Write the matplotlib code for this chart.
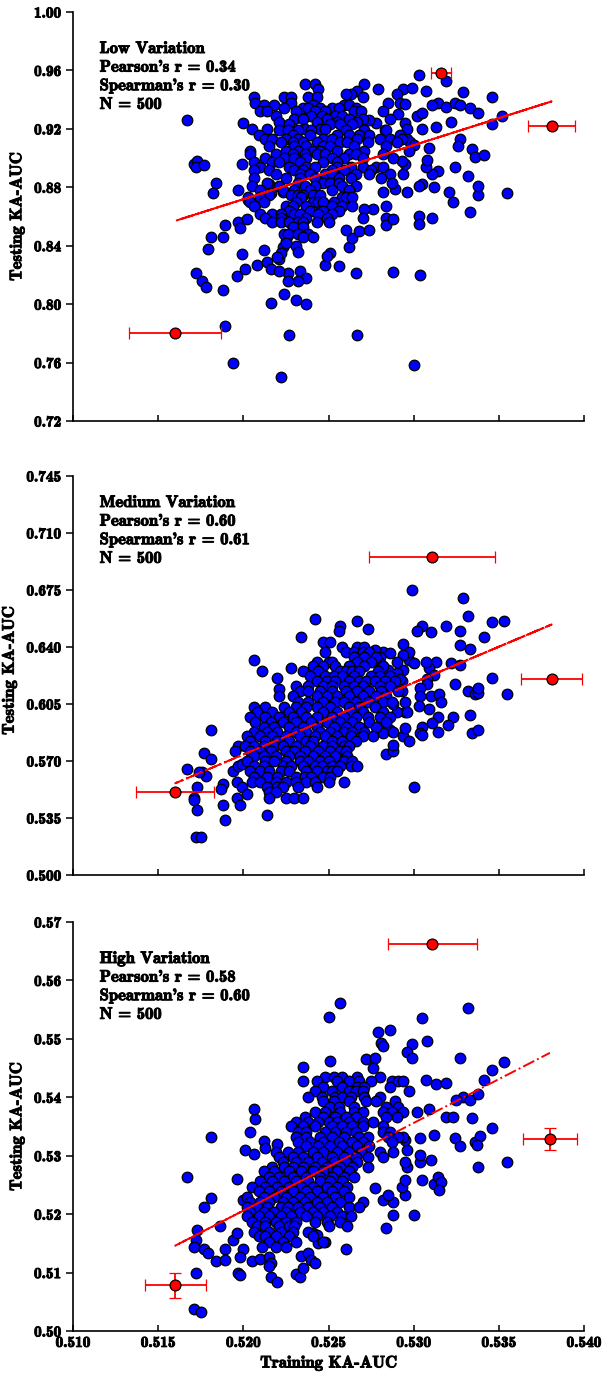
"""Training vs testing KA-AUC scatter for three variation levels."""

import numpy as np
import matplotlib
matplotlib.use('Agg')
import matplotlib.pyplot as plt
import matplotlib.patheffects as pe
from matplotlib.ticker import FormatStrFormatter

plt.rcParams['font.family'] = 'cmb10'
plt.rcParams['mathtext.fontset'] = 'cm'
plt.rcParams['axes.formatter.use_mathtext'] = True

OUT_PNG = 'out.png'

PANEL_NAMES = ['Low Variation', 'Medium Variation', 'High Variation']
PEARSON_R = [0.34, 0.60, 0.58]
SPEARMAN_R = [0.30, 0.61, 0.60]
N_MODELS = 500

# (training, testing) pairs
low_points = [
    (0.5167, 0.926), (0.5171, 0.896), (0.5173, 0.898), (0.5172, 0.894), (0.5177, 0.895),
    (0.5184, 0.883), (0.5182, 0.876), (0.5197, 0.878), (0.5199, 0.896), (0.5200, 0.924),
    (0.5172, 0.821), (0.5176, 0.816), (0.5178, 0.812), (0.5188, 0.810),
    (0.5179, 0.838), (0.5181, 0.846), (0.5188, 0.846), (0.5189, 0.854),
    (0.5196, 0.819), (0.5201, 0.824), (0.5199, 0.834),
    (0.5189, 0.785), (0.5194, 0.760), (0.5222, 0.750), (0.5227, 0.779), (0.5267, 0.779), (0.5300, 0.758),
    (0.5216, 0.801), (0.5224, 0.807), (0.5231, 0.803), (0.5237, 0.800),
    (0.5226, 0.821), (0.5233, 0.823), (0.5237, 0.818), (0.5232, 0.816), (0.5226, 0.816),
    (0.5266, 0.821), (0.5288, 0.822), (0.5304, 0.820),
    (0.5248, 0.827), (0.5251, 0.835), (0.5256, 0.826), (0.5249, 0.833),
    (0.5262, 0.839), (0.5264, 0.845), (0.5260, 0.851), (0.5268, 0.850), (0.5274, 0.851),
    (0.5212, 0.837), (0.5208, 0.827), (0.5214, 0.829), (0.5216, 0.824), (0.5221, 0.823),
    (0.5221, 0.831), (0.5223, 0.839), (0.5225, 0.843), (0.5226, 0.847),
    (0.5197, 0.856), (0.5198, 0.852), (0.5202, 0.858), (0.5203, 0.871), (0.5207, 0.868),
    (0.5215, 0.882), (0.5216, 0.876), (0.5223, 0.877),
    (0.5346, 0.942), (0.5329, 0.945), (0.5307, 0.946), (0.5303, 0.957), (0.5319, 0.953),
    (0.5352, 0.929), (0.5346, 0.923), (0.5355, 0.876), (0.5333, 0.863), (0.5338, 0.875),
    (0.5338, 0.881), (0.5332, 0.888), (0.5323, 0.870), (0.5321, 0.877), (0.5324, 0.894),
    (0.5334, 0.906), (0.5336, 0.901), (0.5341, 0.902), (0.5327, 0.913), (0.5326, 0.908),
    (0.5322, 0.925), (0.5313, 0.921), (0.5305, 0.920),
    (0.5314, 0.938), (0.5311, 0.936), (0.5319, 0.935), (0.5324, 0.938), (0.5327, 0.936),
    (0.5333, 0.934), (0.5338, 0.931), (0.5302, 0.929), (0.5305, 0.931),
    (0.5311, 0.859), (0.5303, 0.860), (0.5303, 0.855), (0.5312, 0.880), (0.5305, 0.882),
    (0.5303, 0.881), (0.5314, 0.891), (0.5311, 0.889), (0.5307, 0.894), (0.5308, 0.899),
    (0.5309, 0.907), (0.5296, 0.877), (0.5289, 0.879), (0.5294, 0.889), (0.5295, 0.896),
    (0.5293, 0.898), (0.5282, 0.877), (0.5284, 0.867), (0.5284, 0.859), (0.5284, 0.854),
    (0.5288, 0.858), (0.5276, 0.865), (0.5271, 0.865), (0.5270, 0.859),
    (0.5294, 0.947), (0.5299, 0.948), (0.5290, 0.944), (0.5292, 0.938), (0.5295, 0.937),
    (0.5285, 0.938), (0.5279, 0.947), (0.5271, 0.951), (0.5267, 0.946), (0.5263, 0.944),
    (0.5260, 0.944), (0.5270, 0.942),
    (0.5282, 0.932), (0.5291, 0.930), (0.5286, 0.927), (0.5295, 0.924), (0.5296, 0.920),
    (0.5283, 0.919), (0.5296, 0.913), (0.5298, 0.911), (0.5300, 0.909), (0.5278, 0.924),
    (0.5274, 0.926),
    (0.5236, 0.951), (0.5242, 0.951), (0.5244, 0.947),
    (0.5206, 0.942), (0.5224, 0.942), (0.5228, 0.942), (0.5238, 0.942), (0.5243, 0.942),
    (0.5207, 0.938), (0.5228, 0.938),
    (0.5212, 0.936), (0.5218, 0.936), (0.5241, 0.936), (0.5259, 0.936), (0.5262, 0.936),
    (0.5224, 0.934), (0.5235, 0.934), (0.5238, 0.934), (0.5245, 0.934), (0.5252, 0.934),
    (0.5256, 0.934), (0.5266, 0.934),
    (0.5210, 0.932), (0.5214, 0.932), (0.5231, 0.932), (0.5242, 0.932), (0.5248, 0.932),
    (0.5265, 0.932), (0.5269, 0.932),
    (0.5219, 0.929), (0.5240, 0.929), (0.5246, 0.929), (0.5254, 0.929), (0.5258, 0.929),
    (0.5230, 0.927), (0.5235, 0.927), (0.5249, 0.927), (0.5262, 0.927), (0.5270, 0.927),
    (0.5221, 0.925), (0.5243, 0.925), (0.5255, 0.925), (0.5267, 0.925),
    (0.5227, 0.923), (0.5251, 0.923), (0.5257, 0.923), (0.5264, 0.923),
    (0.5205, 0.920), (0.5214, 0.920), (0.5236, 0.920), (0.5245, 0.920), (0.5248, 0.920),
    (0.5221, 0.919), (0.5226, 0.919), (0.5232, 0.919), (0.5240, 0.919), (0.5260, 0.919),
    (0.5271, 0.919), (0.5284, 0.919),
    (0.5209, 0.916), (0.5229, 0.916), (0.5239, 0.916), (0.5255, 0.916), (0.5262, 0.916),
    (0.5268, 0.916), (0.5274, 0.916), (0.5292, 0.916),
    (0.5213, 0.913), (0.5217, 0.913), (0.5225, 0.913), (0.5232, 0.913), (0.5247, 0.913),
    (0.5252, 0.913), (0.5267, 0.913), (0.5280, 0.913), (0.5286, 0.913), (0.5293, 0.913),
    (0.5222, 0.911), (0.5229, 0.911), (0.5235, 0.911), (0.5243, 0.911), (0.5257, 0.911),
    (0.5261, 0.911), (0.5273, 0.911), (0.5290, 0.911),
    (0.5215, 0.908), (0.5230, 0.908), (0.5237, 0.908), (0.5247, 0.908), (0.5251, 0.908),
    (0.5265, 0.908), (0.5284, 0.908),
    (0.5204, 0.905), (0.5225, 0.905), (0.5232, 0.905), (0.5241, 0.905), (0.5245, 0.905),
    (0.5255, 0.905), (0.5271, 0.905), (0.5297, 0.905),
    (0.5204, 0.903), (0.5219, 0.903), (0.5229, 0.903), (0.5236, 0.903), (0.5243, 0.903),
    (0.5248, 0.903), (0.5262, 0.903), (0.5266, 0.903), (0.5282, 0.903),
    (0.5213, 0.900), (0.5224, 0.900), (0.5230, 0.900), (0.5237, 0.900), (0.5252, 0.900),
    (0.5259, 0.900), (0.5270, 0.900), (0.5288, 0.900),
    (0.5206, 0.897), (0.5217, 0.897), (0.5221, 0.897), (0.5233, 0.897), (0.5247, 0.897),
    (0.5255, 0.897),
    (0.5210, 0.894), (0.5227, 0.894), (0.5237, 0.894), (0.5242, 0.894), (0.5255, 0.894),
    (0.5263, 0.894), (0.5270, 0.894), (0.5278, 0.894), (0.5282, 0.894),
    (0.5206, 0.892), (0.5215, 0.892), (0.5230, 0.892), (0.5235, 0.892), (0.5252, 0.892),
    (0.5259, 0.892), (0.5275, 0.892),
    (0.5219, 0.889), (0.5233, 0.889), (0.5239, 0.889), (0.5248, 0.889), (0.5252, 0.889),
    (0.5266, 0.889), (0.5274, 0.889), (0.5286, 0.889),
    (0.5206, 0.886), (0.5225, 0.886), (0.5233, 0.886), (0.5242, 0.886), (0.5256, 0.886),
    (0.5263, 0.886), (0.5281, 0.886),
    (0.5214, 0.883), (0.5232, 0.883), (0.5247, 0.883), (0.5251, 0.883), (0.5256, 0.883),
    (0.5287, 0.883),
    (0.5205, 0.881), (0.5221, 0.881), (0.5236, 0.881), (0.5242, 0.881), (0.5258, 0.881),
    (0.5266, 0.881),
    (0.5210, 0.878), (0.5223, 0.878), (0.5230, 0.878), (0.5239, 0.878), (0.5252, 0.878),
    (0.5262, 0.878),
    (0.5215, 0.875), (0.5228, 0.875), (0.5232, 0.875), (0.5235, 0.875), (0.5241, 0.875),
    (0.5245, 0.875),
    (0.5203, 0.873), (0.5210, 0.873), (0.5234, 0.873), (0.5258, 0.873), (0.5260, 0.873),
    (0.5264, 0.873),
    (0.5204, 0.870), (0.5212, 0.870), (0.5231, 0.870), (0.5241, 0.870), (0.5244, 0.870),
    (0.5247, 0.870), (0.5253, 0.870),
    (0.5206, 0.867), (0.5225, 0.867), (0.5229, 0.867), (0.5237, 0.867), (0.5252, 0.867),
    (0.5258, 0.867), (0.5264, 0.867),
    (0.5227, 0.864), (0.5239, 0.864), (0.5245, 0.864), (0.5247, 0.864), (0.5256, 0.864),
    (0.5210, 0.862), (0.5217, 0.862), (0.5222, 0.862), (0.5230, 0.862), (0.5233, 0.862),
    (0.5244, 0.862), (0.5252, 0.862),
    (0.5213, 0.859), (0.5222, 0.859), (0.5237, 0.859), (0.5249, 0.859),
    (0.5217, 0.856), (0.5222, 0.856), (0.5227, 0.856), (0.5232, 0.856), (0.5235, 0.856),
    (0.5243, 0.856), (0.5250, 0.856),
    (0.5229, 0.853), (0.5235, 0.853),
    (0.5224, 0.848), (0.5226, 0.848), (0.5232, 0.848), (0.5238, 0.848),
    (0.5235, 0.846), (0.5241, 0.846),
    (0.5231, 0.840), (0.5232, 0.836), (0.5225, 0.842), (0.5222, 0.835), (0.5220, 0.832),
]

medium_points = [
    (0.5299, 0.675), (0.5329, 0.670), (0.5332, 0.659), (0.5346, 0.655), (0.5353, 0.656),
    (0.5319, 0.653), (0.5327, 0.650), (0.5341, 0.646), (0.5305, 0.653), (0.5302, 0.650),
    (0.5310, 0.649), (0.5327, 0.641), (0.5333, 0.639), (0.5294, 0.642),
    (0.5267, 0.656), (0.5273, 0.651), (0.5257, 0.653), (0.5256, 0.650), (0.5242, 0.657),
    (0.5234, 0.646),
    (0.5206, 0.632), (0.5211, 0.625), (0.5228, 0.627), (0.5220, 0.621), (0.5221, 0.614),
    (0.5221, 0.610),
    (0.5181, 0.589), (0.5177, 0.575), (0.5181, 0.571), (0.5167, 0.565), (0.5176, 0.563),
    (0.5178, 0.561), (0.5174, 0.563),
    (0.5173, 0.554), (0.5171, 0.547), (0.5171, 0.546), (0.5173, 0.540),
    (0.5172, 0.523), (0.5175, 0.523),
    (0.5188, 0.556), (0.5187, 0.553), (0.5188, 0.543), (0.5189, 0.534),
    (0.5194, 0.564), (0.5197, 0.567), (0.5199, 0.568),
    (0.5196, 0.557), (0.5199, 0.554), (0.5202, 0.550), (0.5196, 0.547), (0.5198, 0.543),
    (0.5214, 0.537), (0.5300, 0.554),
    (0.5346, 0.621), (0.5355, 0.611), (0.5332, 0.613), (0.5336, 0.611), (0.5338, 0.612),
    (0.5338, 0.615), (0.5333, 0.598), (0.5334, 0.587), (0.5338, 0.589),
    (0.5323, 0.597), (0.5320, 0.592), (0.5324, 0.617),
    (0.5313, 0.631), (0.5309, 0.627), (0.5307, 0.631), (0.5322, 0.630), (0.5327, 0.629),
    (0.5312, 0.623), (0.5308, 0.620), (0.5308, 0.617),
    (0.5304, 0.615), (0.5304, 0.610), (0.5303, 0.604),
    (0.5310, 0.610), (0.5315, 0.611), (0.5316, 0.606), (0.5309, 0.602),
    (0.5314, 0.597), (0.5311, 0.593), (0.5314, 0.588),
    (0.5305, 0.591), (0.5304, 0.587), (0.5305, 0.586),
    (0.5294, 0.585), (0.5297, 0.582), (0.5295, 0.590), (0.5295, 0.600), (0.5295, 0.606),
    (0.5293, 0.613), (0.5293, 0.619),
    (0.5284, 0.574), (0.5288, 0.576), (0.5288, 0.580),
    (0.5290, 0.600), (0.5288, 0.605), (0.5284, 0.593), (0.5286, 0.589), (0.5282, 0.587),
    (0.5294, 0.626), (0.5297, 0.632), (0.5300, 0.630), (0.5297, 0.637), (0.5294, 0.635),
    (0.5290, 0.631),
    (0.5282, 0.637), (0.5286, 0.636), (0.5280, 0.634), (0.5277, 0.638), (0.5280, 0.630),
    (0.5285, 0.626), (0.5290, 0.624), (0.5292, 0.620), (0.5286, 0.621),
    (0.5247, 0.643), (0.5251, 0.643),
    (0.5258, 0.640), (0.5267, 0.640), (0.5271, 0.640),
    (0.5248, 0.637), (0.5260, 0.637), (0.5265, 0.637), (0.5270, 0.637), (0.5274, 0.637),
    (0.5265, 0.634), (0.5271, 0.634), (0.5278, 0.634),
    (0.5243, 0.631), (0.5250, 0.631), (0.5252, 0.631), (0.5267, 0.631), (0.5275, 0.631),
    (0.5241, 0.628), (0.5247, 0.628), (0.5254, 0.628), (0.5262, 0.628), (0.5271, 0.628),
    (0.5282, 0.628),
    (0.5235, 0.625), (0.5244, 0.625), (0.5257, 0.625), (0.5260, 0.625), (0.5264, 0.625),
    (0.5268, 0.625), (0.5279, 0.625),
    (0.5239, 0.622), (0.5248, 0.622), (0.5253, 0.622), (0.5258, 0.622), (0.5265, 0.622),
    (0.5275, 0.622), (0.5280, 0.622), (0.5286, 0.622),
    (0.5243, 0.619), (0.5249, 0.619), (0.5254, 0.619), (0.5262, 0.619), (0.5268, 0.619),
    (0.5272, 0.619), (0.5277, 0.619), (0.5283, 0.619), (0.5289, 0.619),
    (0.5231, 0.616), (0.5238, 0.616), (0.5247, 0.616), (0.5252, 0.616), (0.5259, 0.616),
    (0.5265, 0.616), (0.5270, 0.616), (0.5280, 0.616), (0.5286, 0.616),
    (0.5233, 0.613), (0.5238, 0.613), (0.5245, 0.613), (0.5252, 0.613), (0.5260, 0.613),
    (0.5267, 0.613), (0.5274, 0.613), (0.5281, 0.613), (0.5291, 0.613),
    (0.5229, 0.610), (0.5243, 0.610), (0.5249, 0.610), (0.5255, 0.610), (0.5262, 0.610),
    (0.5270, 0.610), (0.5278, 0.610), (0.5284, 0.610),
    (0.5232, 0.606), (0.5238, 0.606), (0.5247, 0.606), (0.5254, 0.606), (0.5259, 0.606),
    (0.5266, 0.606), (0.5273, 0.606), (0.5282, 0.606), (0.5287, 0.606),
    (0.5206, 0.603), (0.5213, 0.603), (0.5224, 0.603), (0.5231, 0.603), (0.5237, 0.603),
    (0.5243, 0.603), (0.5251, 0.603), (0.5262, 0.603), (0.5268, 0.603), (0.5277, 0.603),
    (0.5208, 0.600), (0.5217, 0.600), (0.5227, 0.600), (0.5234, 0.600), (0.5247, 0.600),
    (0.5255, 0.600), (0.5263, 0.600), (0.5270, 0.600), (0.5282, 0.600), (0.5296, 0.600),
    (0.5204, 0.597), (0.5213, 0.597), (0.5221, 0.597), (0.5229, 0.597), (0.5237, 0.597),
    (0.5243, 0.597), (0.5252, 0.597), (0.5259, 0.597), (0.5266, 0.597), (0.5273, 0.597),
    (0.5280, 0.597), (0.5286, 0.597),
    (0.5207, 0.594), (0.5216, 0.594), (0.5223, 0.594), (0.5231, 0.594), (0.5240, 0.594),
    (0.5249, 0.594), (0.5257, 0.594), (0.5264, 0.594), (0.5274, 0.594), (0.5284, 0.594),
    (0.5212, 0.591), (0.5218, 0.591), (0.5227, 0.591), (0.5235, 0.591), (0.5243, 0.591),
    (0.5253, 0.591), (0.5260, 0.591), (0.5268, 0.591), (0.5278, 0.591),
    (0.5206, 0.588), (0.5214, 0.588), (0.5220, 0.588), (0.5231, 0.588), (0.5237, 0.588),
    (0.5245, 0.588), (0.5251, 0.588), (0.5259, 0.588), (0.5264, 0.588), (0.5271, 0.588),
    (0.5288, 0.588),
    (0.5202, 0.585), (0.5210, 0.585), (0.5217, 0.585), (0.5225, 0.585), (0.5233, 0.585),
    (0.5242, 0.585), (0.5248, 0.585), (0.5255, 0.585), (0.5263, 0.585), (0.5270, 0.585),
    (0.5276, 0.585),
    (0.5204, 0.582), (0.5213, 0.582), (0.5220, 0.582), (0.5227, 0.582), (0.5237, 0.582),
    (0.5241, 0.582), (0.5252, 0.582), (0.5258, 0.582), (0.5266, 0.582),
    (0.5197, 0.579), (0.5201, 0.579), (0.5206, 0.579), (0.5212, 0.579), (0.5218, 0.579),
    (0.5223, 0.579), (0.5231, 0.579), (0.5239, 0.579), (0.5247, 0.579), (0.5252, 0.579),
    (0.5259, 0.579), (0.5262, 0.579),
    (0.5195, 0.576), (0.5204, 0.576), (0.5210, 0.576), (0.5216, 0.576), (0.5225, 0.576),
    (0.5230, 0.576), (0.5236, 0.576), (0.5244, 0.576), (0.5251, 0.576), (0.5257, 0.576),
    (0.5260, 0.576),
    (0.5206, 0.573), (0.5212, 0.573), (0.5219, 0.573), (0.5227, 0.573), (0.5233, 0.573),
    (0.5241, 0.573), (0.5248, 0.573), (0.5254, 0.573), (0.5261, 0.573),
    (0.5202, 0.570), (0.5213, 0.570), (0.5218, 0.570), (0.5225, 0.570), (0.5233, 0.570),
    (0.5238, 0.570), (0.5245, 0.570), (0.5250, 0.570), (0.5259, 0.570), (0.5264, 0.570),
    (0.5206, 0.567), (0.5212, 0.567), (0.5223, 0.567), (0.5228, 0.567), (0.5235, 0.567),
    (0.5242, 0.567), (0.5246, 0.567), (0.5252, 0.567), (0.5257, 0.567), (0.5263, 0.567),
    (0.5267, 0.567),
    (0.5204, 0.564), (0.5210, 0.564), (0.5215, 0.564), (0.5222, 0.564), (0.5227, 0.564),
    (0.5237, 0.564), (0.5243, 0.564), (0.5249, 0.564), (0.5252, 0.564), (0.5255, 0.564),
    (0.5206, 0.560), (0.5214, 0.560), (0.5220, 0.560), (0.5231, 0.560), (0.5236, 0.560),
    (0.5240, 0.560), (0.5247, 0.560), (0.5251, 0.560),
    (0.5205, 0.557), (0.5210, 0.557), (0.5219, 0.557), (0.5225, 0.557), (0.5231, 0.557),
    (0.5237, 0.557), (0.5242, 0.557), (0.5250, 0.557), (0.5259, 0.557),
    (0.5214, 0.554), (0.5220, 0.554), (0.5223, 0.554), (0.5232, 0.554), (0.5243, 0.554),
    (0.5215, 0.551), (0.5219, 0.551),
    (0.5215, 0.547), (0.5225, 0.547), (0.5230, 0.547), (0.5235, 0.547),
]

high_points = [
    (0.5257, 0.5561), (0.5250, 0.5537), (0.5332, 0.5552), (0.5305, 0.5535),
    (0.5308, 0.5497), (0.5299, 0.5491), (0.5296, 0.5477), (0.5299, 0.5467),
    (0.5279, 0.5511), (0.5286, 0.5515), (0.5281, 0.5493), (0.5282, 0.5487),
    (0.5251, 0.5462), (0.5235, 0.5452), (0.5235, 0.5428), (0.5272, 0.5466),
    (0.5277, 0.5467), (0.5276, 0.5450),
    (0.5327, 0.5467), (0.5353, 0.5460), (0.5346, 0.5446), (0.5341, 0.5429),
    (0.5307, 0.5429), (0.5313, 0.5422), (0.5319, 0.5424), (0.5297, 0.5411),
    (0.5329, 0.5401), (0.5333, 0.5395), (0.5338, 0.5405), (0.5325, 0.5396),
    (0.5309, 0.5380), (0.5302, 0.5374), (0.5319, 0.5367), (0.5323, 0.5366),
    (0.5334, 0.5364), (0.5346, 0.5348),
    (0.5312, 0.5335), (0.5324, 0.5331), (0.5327, 0.5316), (0.5336, 0.5324),
    (0.5339, 0.5334), (0.5337, 0.5318),
    (0.5355, 0.5289), (0.5338, 0.5280),
    (0.5304, 0.5331), (0.5304, 0.5289), (0.5304, 0.5301), (0.5310, 0.5293),
    (0.5305, 0.5259), (0.5312, 0.5252), (0.5314, 0.5263), (0.5316, 0.5255), (0.5315, 0.5241),
    (0.5300, 0.5199), (0.5288, 0.5199), (0.5284, 0.5176), (0.5295, 0.5233),
    (0.5288, 0.5220), (0.5282, 0.5224), (0.5277, 0.5244),
    (0.5285, 0.5233), (0.5293, 0.5247), (0.5295, 0.5259), (0.5296, 0.5281),
    (0.5295, 0.5290), (0.5296, 0.5310), (0.5295, 0.5327), (0.5294, 0.5332),
    (0.5181, 0.5332), (0.5167, 0.5263), (0.5181, 0.5227), (0.5177, 0.5213),
    (0.5173, 0.5173), (0.5172, 0.5156), (0.5171, 0.5143), (0.5177, 0.5141),
    (0.5179, 0.5133), (0.5184, 0.5120), (0.5189, 0.5140), (0.5189, 0.5122), (0.5186, 0.5179),
    (0.5172, 0.5099), (0.5171, 0.5037), (0.5175, 0.5033),
    (0.5194, 0.5156), (0.5196, 0.5167), (0.5200, 0.5141), (0.5198, 0.5126),
    (0.5197, 0.5100), (0.5198, 0.5095),
    (0.5205, 0.5119), (0.5210, 0.5124), (0.5215, 0.5126), (0.5216, 0.5116),
    (0.5215, 0.5111), (0.5216, 0.5092), (0.5220, 0.5083),
    (0.5231, 0.5098), (0.5233, 0.5093), (0.5235, 0.5107), (0.5234, 0.5129),
    (0.5238, 0.5134), (0.5240, 0.5122), (0.5242, 0.5117),
    (0.5260, 0.5141), (0.5244, 0.5150), (0.5248, 0.5152), (0.5241, 0.5167), (0.5243, 0.5165),
    (0.5196, 0.5260), (0.5201, 0.5309), (0.5206, 0.5303), (0.5204, 0.5341),
    (0.5207, 0.5363), (0.5206, 0.5380), (0.5200, 0.5224),
    (0.5212, 0.5325), (0.5213, 0.5313), (0.5220, 0.5320),
    (0.5248, 0.5435), (0.5253, 0.5435), (0.5258, 0.5435), (0.5267, 0.5435), (0.5280, 0.5435),
    (0.5243, 0.5427), (0.5255, 0.5427), (0.5262, 0.5427), (0.5268, 0.5427), (0.5275, 0.5427),
    (0.5287, 0.5427), (0.5291, 0.5427), (0.5294, 0.5427),
    (0.5247, 0.5418), (0.5258, 0.5418), (0.5267, 0.5418), (0.5271, 0.5418), (0.5286, 0.5418),
    (0.5242, 0.5410), (0.5252, 0.5410), (0.5262, 0.5410), (0.5266, 0.5410), (0.5270, 0.5410),
    (0.5238, 0.5401), (0.5246, 0.5401), (0.5254, 0.5401), (0.5258, 0.5401), (0.5263, 0.5401),
    (0.5271, 0.5401), (0.5280, 0.5401),
    (0.5247, 0.5393), (0.5253, 0.5393), (0.5262, 0.5393), (0.5272, 0.5393), (0.5278, 0.5393),
    (0.5289, 0.5393),
    (0.5251, 0.5384), (0.5256, 0.5384), (0.5265, 0.5384), (0.5284, 0.5384), (0.5291, 0.5384),
    (0.5242, 0.5375), (0.5248, 0.5375), (0.5257, 0.5375), (0.5265, 0.5375), (0.5270, 0.5375),
    (0.5282, 0.5375), (0.5287, 0.5375), (0.5294, 0.5375),
    (0.5236, 0.5367), (0.5247, 0.5367), (0.5254, 0.5367), (0.5260, 0.5367), (0.5266, 0.5367),
    (0.5284, 0.5367), (0.5290, 0.5367),
    (0.5231, 0.5358), (0.5238, 0.5358), (0.5244, 0.5358), (0.5250, 0.5358), (0.5255, 0.5358),
    (0.5262, 0.5358), (0.5270, 0.5358), (0.5276, 0.5358),
    (0.5228, 0.5350), (0.5235, 0.5350), (0.5242, 0.5350), (0.5252, 0.5350), (0.5258, 0.5350),
    (0.5264, 0.5350), (0.5270, 0.5350), (0.5282, 0.5350),
    (0.5232, 0.5341), (0.5237, 0.5341), (0.5248, 0.5341), (0.5254, 0.5341), (0.5260, 0.5341),
    (0.5266, 0.5341), (0.5282, 0.5341), (0.5286, 0.5341),
    (0.5231, 0.5332), (0.5237, 0.5332), (0.5245, 0.5332), (0.5252, 0.5332), (0.5259, 0.5332),
    (0.5268, 0.5332), (0.5273, 0.5332), (0.5285, 0.5332), (0.5291, 0.5332),
    (0.5232, 0.5324), (0.5239, 0.5324), (0.5247, 0.5324), (0.5256, 0.5324), (0.5264, 0.5324),
    (0.5270, 0.5324), (0.5287, 0.5324),
    (0.5237, 0.5316), (0.5244, 0.5316), (0.5251, 0.5316), (0.5258, 0.5316), (0.5267, 0.5316),
    (0.5274, 0.5316),
    (0.5219, 0.5307), (0.5226, 0.5307), (0.5232, 0.5307), (0.5241, 0.5307), (0.5247, 0.5307),
    (0.5255, 0.5307), (0.5262, 0.5307), (0.5269, 0.5307), (0.5280, 0.5307), (0.5288, 0.5307),
    (0.5221, 0.5298), (0.5229, 0.5298), (0.5235, 0.5298), (0.5243, 0.5298), (0.5252, 0.5298),
    (0.5259, 0.5298), (0.5266, 0.5298), (0.5273, 0.5298), (0.5282, 0.5298),
    (0.5223, 0.5290), (0.5231, 0.5290), (0.5238, 0.5290), (0.5246, 0.5290), (0.5253, 0.5290),
    (0.5260, 0.5290), (0.5267, 0.5290),
    (0.5217, 0.5281), (0.5224, 0.5281), (0.5229, 0.5281), (0.5235, 0.5281), (0.5242, 0.5281),
    (0.5249, 0.5281), (0.5257, 0.5281), (0.5264, 0.5281), (0.5273, 0.5281),
    (0.5212, 0.5273), (0.5218, 0.5273), (0.5227, 0.5273), (0.5234, 0.5273), (0.5241, 0.5273),
    (0.5247, 0.5273), (0.5255, 0.5273), (0.5262, 0.5273),
    (0.5215, 0.5264), (0.5221, 0.5264), (0.5229, 0.5264), (0.5237, 0.5264), (0.5245, 0.5264),
    (0.5252, 0.5264), (0.5259, 0.5264), (0.5265, 0.5264),
    (0.5210, 0.5256), (0.5217, 0.5256), (0.5224, 0.5256), (0.5231, 0.5256), (0.5238, 0.5256),
    (0.5245, 0.5256), (0.5251, 0.5256), (0.5258, 0.5256),
    (0.5205, 0.5247), (0.5213, 0.5247), (0.5220, 0.5247), (0.5227, 0.5247), (0.5234, 0.5247),
    (0.5241, 0.5247), (0.5249, 0.5247), (0.5255, 0.5247), (0.5261, 0.5247),
    (0.5209, 0.5239), (0.5215, 0.5239), (0.5222, 0.5239), (0.5229, 0.5239), (0.5237, 0.5239),
    (0.5243, 0.5239), (0.5252, 0.5239), (0.5259, 0.5239),
    (0.5202, 0.5230), (0.5212, 0.5230), (0.5218, 0.5230), (0.5225, 0.5230), (0.5233, 0.5230),
    (0.5239, 0.5230), (0.5247, 0.5230), (0.5254, 0.5230), (0.5262, 0.5230),
    (0.5204, 0.5221), (0.5210, 0.5221), (0.5215, 0.5221), (0.5223, 0.5221), (0.5229, 0.5221),
    (0.5236, 0.5221), (0.5243, 0.5221), (0.5249, 0.5221), (0.5257, 0.5221), (0.5270, 0.5221),
    (0.5202, 0.5213), (0.5208, 0.5213), (0.5214, 0.5213), (0.5222, 0.5213), (0.5226, 0.5213),
    (0.5232, 0.5213), (0.5238, 0.5213), (0.5245, 0.5213), (0.5252, 0.5213), (0.5262, 0.5213),
    (0.5268, 0.5213),
    (0.5204, 0.5204), (0.5212, 0.5204), (0.5218, 0.5204), (0.5225, 0.5204), (0.5233, 0.5204),
    (0.5241, 0.5204), (0.5247, 0.5204), (0.5255, 0.5204),
    (0.5202, 0.5196), (0.5209, 0.5196), (0.5215, 0.5196), (0.5222, 0.5196), (0.5228, 0.5196),
    (0.5237, 0.5196), (0.5243, 0.5196), (0.5251, 0.5196), (0.5258, 0.5196), (0.5263, 0.5196),
    (0.5205, 0.5187), (0.5213, 0.5187), (0.5219, 0.5187), (0.5225, 0.5187), (0.5231, 0.5187),
    (0.5242, 0.5187), (0.5249, 0.5187), (0.5257, 0.5187),
    (0.5208, 0.5179), (0.5213, 0.5179), (0.5221, 0.5179), (0.5227, 0.5179), (0.5230, 0.5179),
    (0.5250, 0.5179), (0.5261, 0.5179),
    (0.5206, 0.5170), (0.5215, 0.5170), (0.5222, 0.5170), (0.5229, 0.5170), (0.5238, 0.5170),
    (0.5209, 0.5162), (0.5213, 0.5162), (0.5219, 0.5162), (0.5227, 0.5162), (0.5241, 0.5162),
    (0.5215, 0.5153), (0.5223, 0.5153), (0.5231, 0.5153), (0.5247, 0.5153),
    (0.5211, 0.5144), (0.5219, 0.5144), (0.5225, 0.5144),
]

# red reference points: training, testing, x error, y error
low_ref_x = [0.5160, 0.5316, 0.5381]
low_ref_y = [0.780, 0.958, 0.922]
low_ref_xerr = [0.0027, 0.0006, 0.0014]
low_ref_yerr = [0.0, 0.0, 0.0]

medium_ref_x = [0.5160, 0.5311, 0.5381]
medium_ref_y = [0.5512, 0.6950, 0.6200]
medium_ref_xerr = [0.0023, 0.0037, 0.0018]
medium_ref_yerr = [0.0, 0.0, 0.0]

high_ref_x = [0.5160, 0.5311, 0.5380]
high_ref_y = [0.5078, 0.5663, 0.5329]
high_ref_xerr = [0.0018, 0.0026, 0.0016]
high_ref_yerr = [0.0021, 0.0, 0.0019]

# fitted line: value at x=0.516 and slope
FIT_START = [0.857, 0.5563, 0.5146]
FIT_SLOPE = [3.70, 4.41, 1.50]
FIT_X0 = 0.516

Y_LIMITS = [(0.72, 1.00), (0.500, 0.7511), (0.50, 0.57)]
Y_TICKS = [np.arange(0.72, 1.001, 0.04), np.arange(0.500, 0.7451, 0.035),
           np.arange(0.50, 0.5701, 0.01)]
Y_FORMATS = ['%.2f', '%.3f', '%.2f']
X_TICKS = np.arange(0.510, 0.5401, 0.005)

AXES_RECTS = [
    [0.1209, 0.6936, 0.8460, 0.2977],
    [0.1209, 0.3632, 0.8460, 0.2977],
    [0.1209, 0.0313, 0.8460, 0.2977],
]

TICK_SIZE = 11
NOTE_SIZE = 12
LABEL_SIZE = 12
BOLD = [pe.withStroke(linewidth=0.7, foreground='black')]


def draw_panel(ax, points, ref, idx):
    """Scatter, fit line, reference points and annotation for one panel."""
    xs = [p[0] for p in points]
    ys = [p[1] for p in points]
    ax.scatter(xs, ys, s=58, c='#0000ff', edgecolors='black', linewidths=0.9, zorder=2)

    ref_x, ref_y, ref_xerr, ref_yerr = ref
    # fit line is drawn through the unsorted x values, like the original
    line_x = np.array(xs + list(ref_x))
    line_y = FIT_START[idx] + FIT_SLOPE[idx] * (line_x - FIT_X0)
    ax.plot(line_x, line_y, color='red', linestyle='-.', linewidth=1.4, zorder=3)

    ax.errorbar(ref_x, ref_y, xerr=ref_xerr, yerr=ref_yerr, fmt='o', color='red',
                markerfacecolor='red', markeredgecolor='black', markersize=7.8,
                markeredgewidth=0.9, ecolor='red', elinewidth=1.3, capsize=4,
                capthick=1.3, zorder=4)

    label = (f"{PANEL_NAMES[idx]}\n"
             f"Pearson's r = {PEARSON_R[idx]:.2f}\n"
             f"Spearman's r = {SPEARMAN_R[idx]:.2f}\n"
             f"N = {N_MODELS}")
    ax.text(0.052, 0.929, label, transform=ax.transAxes, ha='left', va='top',
            fontsize=NOTE_SIZE, linespacing=1.3, path_effects=BOLD)

    ax.set_xlim(0.510, 0.540)
    ax.set_ylim(*Y_LIMITS[idx])
    ax.set_xticks(X_TICKS)
    ax.set_yticks(Y_TICKS[idx])
    ax.yaxis.set_major_formatter(FormatStrFormatter(Y_FORMATS[idx]))
    ax.xaxis.set_major_formatter(FormatStrFormatter('%.3f'))

    ax.spines['top'].set_visible(False)
    ax.spines['right'].set_visible(False)
    ax.spines['left'].set_bounds(Y_TICKS[idx][0], Y_TICKS[idx][-1])
    for side in ('left', 'bottom'):
        ax.spines[side].set_linewidth(1.2)

    ax.tick_params(axis='y', direction='out', length=5, width=1.1, labelsize=TICK_SIZE)
    ax.tick_params(axis='x', direction='in', length=4.5, width=1.1, labelsize=TICK_SIZE)
    ax.set_ylabel('Testing KA-AUC', fontsize=LABEL_SIZE, labelpad=7)
    ax.yaxis.label.set_path_effects(BOLD)
    if idx < 2:
        ax.tick_params(axis='x', labelbottom=False)
    else:
        ax.set_xlabel('Training KA-AUC', fontsize=LABEL_SIZE, labelpad=4)
        ax.xaxis.label.set_path_effects(BOLD)
    for tick_label in ax.get_xticklabels() + ax.get_yticklabels():
        tick_label.set_path_effects(BOLD)


def main():
    fig = plt.figure(figsize=(6.04, 13.74), dpi=100)
    all_points = [low_points, medium_points, high_points]
    all_refs = [
        (low_ref_x, low_ref_y, low_ref_xerr, low_ref_yerr),
        (medium_ref_x, medium_ref_y, medium_ref_xerr, medium_ref_yerr),
        (high_ref_x, high_ref_y, high_ref_xerr, high_ref_yerr),
    ]
    for idx, rect in enumerate(AXES_RECTS):
        ax = fig.add_axes(rect)
        draw_panel(ax, all_points[idx], all_refs[idx], idx)
    fig.savefig(OUT_PNG, dpi=100)
    plt.close(fig)


if __name__ == '__main__':
    main()
